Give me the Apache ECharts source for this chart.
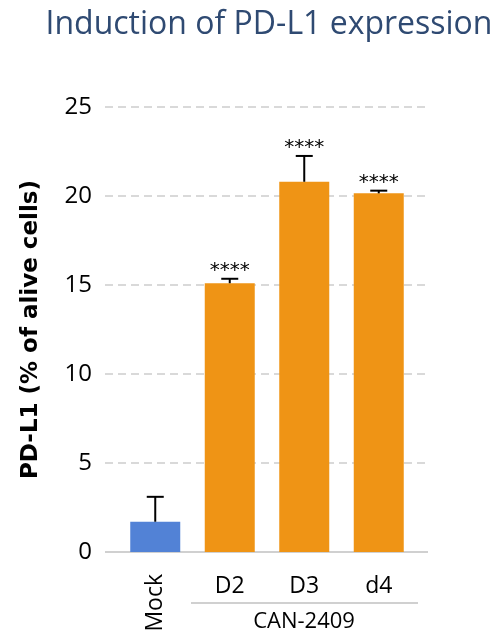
<!DOCTYPE html>
<html><head><meta charset="utf-8">
<script src="https://cdn.jsdelivr.net/npm/echarts@6/dist/echarts.min.js"></script>
<style>html,body{margin:0;padding:0;background:#fff}#c{width:493px;height:636px}</style>
</head><body><div id="c"></div>
<script>
const categories = ['Mock', 'D2', 'D3', 'd4'];
const values = [1.7, 15.1, 20.8, 20.15];
const errorUpper = [3.1, 15.35, 22.25, 20.3];
const sigLabels = ['', '****', '****', '****'];
const groupLabel = 'CAN-2409';
const barColors = ['#5282D6', '#EF9415', '#EF9415', '#EF9415'];
const yTicks = {min: 0, max: 25, interval: 5};

const chart = echarts.init(document.getElementById('c'), null, {renderer: 'canvas'});
const font = '"Open Sans", "Liberation Sans", sans-serif';
const G = {top: 107, bottom: 84};
chart.setOption({
  animation: false,
  title: {
    text: 'Induction of PD-L1 expression', left: 264, textAlign: 'center', top: 4,
    textStyle: {fontFamily: font, fontWeight: 'normal', fontSize: 32, color: '#2F4A72'}
  },
  grid: [
    {left: 105, right: 65, top: G.top, bottom: G.bottom},
    {left: 118, right: 77, top: G.top, bottom: G.bottom}
  ],
  xAxis: [
    {gridIndex: 0, type: 'value', min: 0, max: 1, show: true,
     axisLine: {show: false}, axisTick: {show: false}, axisLabel: {show: false}, splitLine: {show: false}},
    {gridIndex: 1, type: 'category', data: categories, position: 'bottom',
     axisLine: {show: false}, axisTick: {show: false},
     axisLabel: {rotate: 90, margin: 22, fontFamily: font, fontSize: 23, color: '#000',
       formatter: (v, i) => i === 0 ? v : ''}},
    {gridIndex: 1, type: 'category', data: categories, position: 'bottom',
     axisLine: {show: false}, axisTick: {show: false},
     axisLabel: {margin: 23, fontFamily: font, fontSize: 23, color: '#000',
       formatter: (v, i) => i === 0 ? '' : v}}
  ],
  yAxis: [
    {gridIndex: 0, type: 'value', min: yTicks.min, max: yTicks.max, interval: yTicks.interval,
     axisLine: {show: false}, axisTick: {show: false},
     axisLabel: {margin: 13, fontFamily: font, fontSize: 24, color: '#000'},
     splitLine: {show: true, lineStyle: {color: '#D9D9D9', width: 2, type: [8, 5]}},
     name: 'PD-L1 (% of alive cells)', nameLocation: 'middle', nameRotate: 90, nameGap: 62,
     nameTextStyle: {fontFamily: '"DejaVu Sans", sans-serif', fontWeight: 'bold', fontSize: 23, color: '#000'}},
    {gridIndex: 1, type: 'value', min: yTicks.min, max: yTicks.max, interval: yTicks.interval, show: false,
     splitLine: {show: false}}
  ],
  series: [
    {type: 'line', xAxisIndex: 0, yAxisIndex: 0, data: [[0, 0], [1, 0]], symbol: 'none',
     lineStyle: {color: '#D0D0D0', width: 2}, silent: true, z: 1},
    {type: 'bar', xAxisIndex: 1, yAxisIndex: 1, barWidth: 50, z: 3,
     data: values.map((v, i) => ({value: v, itemStyle: {color: barColors[i]}}))},
    {type: 'custom', xAxisIndex: 1, yAxisIndex: 1, z: 4,
     data: values.map((v, i) => [i, v, errorUpper[i]]),
     renderItem: function (params, api) {
       const b = api.coord([api.value(0), api.value(1)]);
       const t = api.coord([api.value(0), api.value(2)]);
       const idx = params.dataIndex;
       const st = {stroke: '#000', lineWidth: 2};
       const children = [
         {type: 'line', shape: {x1: b[0], y1: b[1], x2: t[0], y2: t[1]}, style: st},
         {type: 'line', shape: {x1: t[0] - 8.5, y1: t[1], x2: t[0] + 8.5, y2: t[1]}, style: st}
       ];
       if (sigLabels[idx]) {
         children.push({type: 'text', x: t[0], y: t[1] + 2,
           style: {text: sigLabels[idx], fill: '#000', font: '20px "DejaVu Sans", sans-serif',
             textAlign: 'center', textVerticalAlign: 'bottom'}});
       }
       return {type: 'group', children: children};
     }}
  ],
  graphic: [
    {type: 'line', shape: {x1: 191, y1: 603, x2: 418, y2: 603}, style: {stroke: '#D0D0D0', lineWidth: 2}},
    {type: 'text', x: 304, y: 622, style: {text: groupLabel, fill: '#000', font: '22px "Open Sans", sans-serif',
      textAlign: 'center', textVerticalAlign: 'middle'}}
  ]
});
</script></body></html>
